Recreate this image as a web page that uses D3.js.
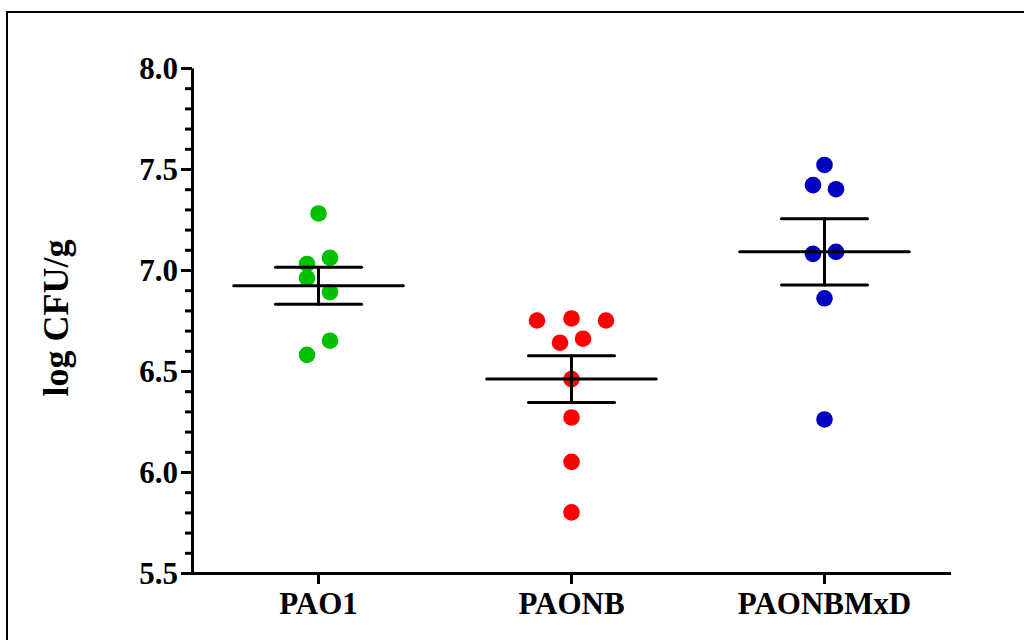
<!DOCTYPE html>
<html><head><meta charset="utf-8">
<script src="https://cdn.jsdelivr.net/npm/d3@7"></script>
<style>
html,body{margin:0;padding:0;background:#fff;}
svg{display:block;}
text{font-family:"Liberation Serif","Times New Roman",serif;font-weight:bold;fill:#000;}
</style></head>
<body>
<svg id="chart" width="1024" height="640"></svg>
<script>
// ---- data ----
const categories = ["PAO1", "PAONB", "PAONBMxD"];
const pao1Values = [7.28, 7.03, 7.06, 6.96, 6.89, 6.58, 6.65];
const paonbValues = [6.75, 6.76, 6.75, 6.64, 6.66, 6.46, 6.27, 6.05, 5.80];
const paonbmxdValues = [7.52, 7.42, 7.40, 7.08, 7.09, 6.86, 6.26];
const seriesColors = ["#00c000", "#ff0000", "#0000c0"];
const yTickValues = [5.5, 6.0, 6.5, 7.0, 7.5, 8.0];
const yDomain = [5.5, 8.0];
const yTitle = "log CFU/g";

const groups = [pao1Values, paonbValues, paonbmxdValues];

(function () {
// ---- layout ----
const svg = d3.select("#chart");
const mLeft = 192, mRight = 951, mTop = 68, mBottom = 573;
const dotR = 8.3, unit = 11.5;

svg.append("rect").attr("x", 7).attr("y", 12).attr("width", 1040).attr("height", 660)
  .attr("fill", "none").attr("stroke", "#000").attr("stroke-width", 2);

const x = d3.scaleBand().domain(categories).range([mLeft, mRight]).padding(0);
const y = d3.scaleLinear().domain(yDomain).range([mBottom, mTop]);

// y axis with minor ticks
const minorTicks = d3.range(55, 81).map(v => v / 10);
const gyMinor = svg.append("g").attr("transform", `translate(${mLeft},0)`)
  .call(d3.axisLeft(y).tickValues(minorTicks).tickSize(7).tickFormat(""));
gyMinor.select(".domain").remove();
gyMinor.selectAll("line").attr("stroke", "#000").attr("stroke-width", 3);

const gy = svg.append("g").attr("transform", `translate(${mLeft},0)`)
  .call(d3.axisLeft(y).tickValues(yTickValues).tickSize(11).tickSizeOuter(0).tickPadding(3)
    .tickFormat(d3.format(".1f")));
gy.select(".domain").attr("stroke", "#000").attr("stroke-width", 3);
gy.selectAll("line").attr("stroke", "#000").attr("stroke-width", 3);
gy.selectAll("text").style("font-size", "31px").attr("dy", "0.34em");

const gx = svg.append("g").attr("transform", `translate(0,${mBottom})`)
  .call(d3.axisBottom(x).tickSize(11).tickSizeOuter(0).tickPadding(8));
gx.select(".domain").attr("stroke", "#000").attr("stroke-width", 3)
  .attr("d", `M${mLeft - 1.5},0.5H${mRight}`);
gx.selectAll("line").attr("stroke", "#000").attr("stroke-width", 3);
gx.selectAll("text").style("font-size", "31px");

svg.append("text")
  .attr("transform", `translate(68,318) rotate(-90)`)
  .attr("text-anchor", "middle")
  .style("font-size", "36px")
  .text(yTitle);

// ---- dots (row-based scatter layout) ----
groups.forEach((vals, gi) => {
  const cx = x(categories[gi]) + x.bandwidth() / 2;
  const order = d3.range(vals.length).sort((a, b) => vals[b] - vals[a]);
  const rows = [];
  order.forEach(i => {
    const last = rows[rows.length - 1];
    if (last && Math.abs(y(vals[i]) - y(vals[last[0]])) < 16) last.push(i);
    else rows.push([i]);
  });
  const pts = [];
  rows.forEach(r => {
    r.sort((a, b) => a - b);
    const n = r.length, step = n * unit;
    r.forEach((i, k) => pts.push({ v: vals[i], dx: (n > 1 ? (k - (n - 1) / 2) * step : 0) }));
  });
  svg.append("g").selectAll("circle").data(pts).join("circle")
    .attr("cx", d => cx + d.dx)
    .attr("cy", d => y(d.v))
    .attr("r", dotR)
    .attr("fill", seriesColors[gi]);

  // mean and SEM
  const m = d3.mean(vals);
  const sem = d3.deviation(vals) / Math.sqrt(vals.length);
  const bw = x.bandwidth();
  const g = svg.append("g").attr("stroke", "#000").attr("stroke-width", 3).attr("stroke-linecap", "round");
  g.append("line").attr("x1", cx - bw * 0.335).attr("x2", cx + bw * 0.335).attr("y1", y(m)).attr("y2", y(m));
  g.append("line").attr("x1", cx).attr("x2", cx).attr("y1", y(m + sem)).attr("y2", y(m - sem));
  [m + sem, m - sem].forEach(v => {
    g.append("line").attr("x1", cx - bw * 0.17).attr("x2", cx + bw * 0.17).attr("y1", y(v)).attr("y2", y(v));
  });
});
})();
</script>
</body></html>
